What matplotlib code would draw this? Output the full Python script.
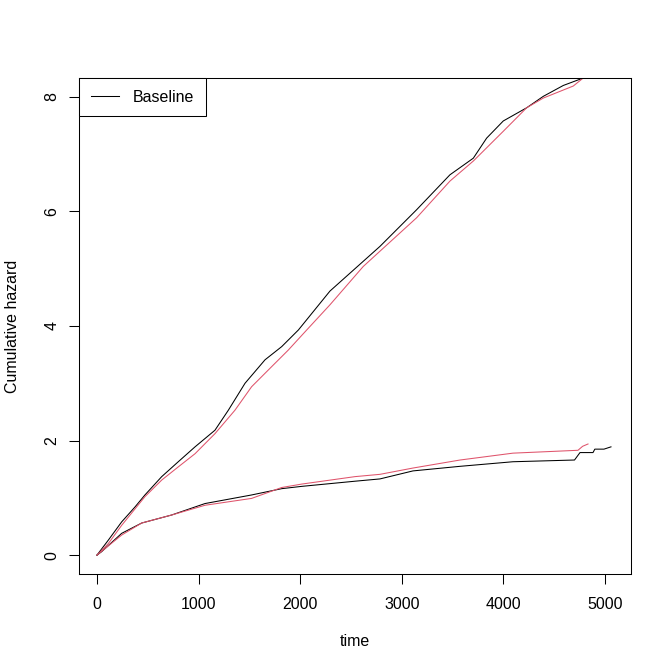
import matplotlib
matplotlib.use("Agg")
import matplotlib.pyplot as plt

# cumulative hazard curves (time, hazard)
upper_black_t = [0, 111, 243, 374, 472, 637, 800, 965, 1161, 1293, 1457, 1654, 1818, 1982,
                 2293, 2621, 2785, 3146, 3474, 3704, 3835, 3999, 4229, 4393, 4590, 4786, 4820]
upper_black_h = [0, 0.26, 0.58, 0.84, 1.05, 1.37, 1.63, 1.89, 2.18, 2.53, 3.00, 3.41, 3.64, 3.93,
                 4.61, 5.13, 5.39, 6.03, 6.64, 6.93, 7.28, 7.58, 7.81, 8.01, 8.20, 8.33, 8.40]

upper_red_t = [0, 111, 243, 472, 637, 800, 965, 1161, 1358, 1522, 1719, 1883, 2064,
               2293, 2621, 3146, 3474, 3704, 3999, 4229, 4393, 4688, 4786, 4820]
upper_red_h = [0, 0.20, 0.52, 1.02, 1.31, 1.54, 1.77, 2.12, 2.53, 2.94, 3.29, 3.58, 3.93,
               4.37, 5.04, 5.89, 6.53, 6.88, 7.40, 7.81, 7.98, 8.19, 8.33, 8.40]

lower_black_t = [0, 46, 243, 440, 735, 1063, 1522, 1818, 2015, 2539, 2785, 3110, 3573,
                 4094, 4700, 4754, 4882, 4900, 4990, 5059]
lower_black_h = [0, 0.06, 0.38, 0.56, 0.70, 0.90, 1.05, 1.16, 1.20, 1.29, 1.33, 1.47, 1.55,
                 1.63, 1.66, 1.79, 1.79, 1.85, 1.85, 1.89]

lower_red_t = [0, 243, 440, 735, 1063, 1522, 1818, 2015, 2539, 2785, 3110, 3573, 4094,
               4734, 4780, 4833]
lower_red_h = [0, 0.35, 0.56, 0.70, 0.87, 0.99, 1.18, 1.24, 1.37, 1.41, 1.52, 1.66, 1.78,
               1.83, 1.90, 1.94]

x_ticks = [0, 1000, 2000, 3000, 4000, 5000]
y_ticks = [0, 2, 4, 6, 8]

plt.rcParams['font.family'] = ['Liberation Sans', 'DejaVu Sans']
fs = 11.5
lw = 0.75
red = '#DF536B'

fig = plt.figure(figsize=(6.72, 6.72), dpi=100)
ax = fig.add_axes([79 / 672, 98 / 672, 552 / 672, 496 / 672])

ax.plot(upper_black_t, upper_black_h, color='black', lw=lw, label='Baseline')
ax.plot(upper_red_t, upper_red_h, color=red, lw=lw)
ax.plot(lower_black_t, lower_black_h, color='black', lw=lw)
ax.plot(lower_red_t, lower_red_h, color=red, lw=lw)

ax.set_xlim(-177, 5256)
ax.set_ylim(-0.33, 8.33)
ax.set_xticks(x_ticks)
ax.set_yticks(y_ticks)
ax.set_xticklabels([str(v) for v in x_ticks])
ax.set_yticklabels([str(v) for v in y_ticks], rotation=90, va='center')
ax.tick_params(direction='out', length=6.9, width=lw, labelsize=fs)
ax.tick_params(axis='x', pad=10)
ax.tick_params(axis='y', pad=7)
for s in ax.spines.values():
    s.set_linewidth(lw)

fig.text(355 / 672, 1 - 641 / 672, 'time', ha='center', va='center', fontsize=fs)
fig.text(13 / 672, 1 - 326 / 672, 'Cumulative hazard', ha='center', va='center',
         rotation=90, fontsize=fs)

leg = ax.legend(loc='upper left', borderaxespad=0, fancybox=False, framealpha=1,
                edgecolor='black', fontsize=fs, handlelength=1.8, handletextpad=0.85,
                borderpad=0.72)
leg.get_frame().set_linewidth(lw)

fig.savefig('out.png', dpi=100)
